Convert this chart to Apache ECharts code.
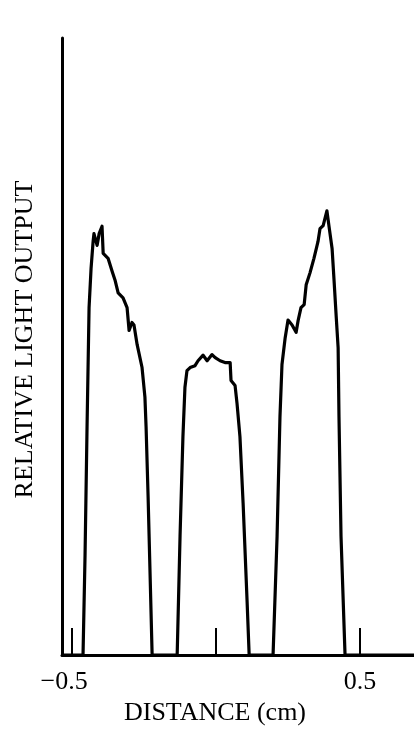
<!DOCTYPE html>
<html>
<head>
<meta charset="utf-8">
<script src="https://cdn.jsdelivr.net/npm/echarts@6/dist/echarts.min.js"></script>
<style>
html,body{margin:0;padding:0;background:#fff;}
#chart{width:414px;height:731px;}
</style>
</head>
<body>
<div id="chart"></div>
<script>
// Distance (cm) along the scan
var distance = [
  -0.535, -0.462, -0.455, -0.448, -0.441, -0.434, -0.427, -0.424, -0.413, -0.406, -0.396,
  -0.392, -0.375, -0.361, -0.351, -0.340, -0.323, -0.309, -0.302, -0.292, -0.285, -0.274,
  -0.257, -0.247, -0.243, -0.236, -0.229, -0.222,
  -0.135, -0.125, -0.115, -0.108, -0.101, -0.090, -0.073, -0.0625, -0.045, -0.031, -0.014,
  -0.003, 0.014, 0.031, 0.049, 0.052, 0.066, 0.073, 0.083, 0.094, 0.108, 0.115,
  0.198, 0.212, 0.222, 0.229, 0.240, 0.250, 0.264, 0.278, 0.285, 0.295, 0.306, 0.313,
  0.326, 0.340, 0.354, 0.361, 0.372, 0.385, 0.392, 0.403, 0.410, 0.417, 0.424, 0.427,
  0.434, 0.448, 0.6875
];
// Relative light output (arbitrary units, 0-100 axis)
var lightOutput = [
  0, 0, 16.1, 37.0, 56.3, 62.7, 67.0, 68.3, 66.4, 68.3, 69.5,
  65.1, 64.3, 62.2, 60.8, 58.7, 57.9, 56.3, 52.6, 53.9, 53.5, 50.3,
  46.6, 41.8, 37.0, 25.7, 12.9, 0,
  0, 19.3, 35.4, 43.4, 46.1, 46.6, 46.9, 47.7, 48.6, 47.7, 48.7,
  48.2, 47.7, 47.4, 47.4, 44.5, 43.7, 40.7, 35.4, 24.6, 8.5, 0,
  0, 19.3, 38.6, 47.1, 51.4, 54.3, 53.5, 52.3, 54.2, 56.3, 56.8, 60.0,
  61.9, 64.3, 67.0, 69.1, 69.6, 72.0, 69.6, 65.9, 60.6, 55.1, 49.8, 38.6,
  19.3, 0, 0
];
var tickValues = [-0.5, 0, 0.5];
var labelValues = [-0.5, 0.5];
var labelText = {'-0.5': '\u22120.5', '0.5': '0.5'};
var xTitle = 'DISTANCE (cm)';
var yTitle = 'RELATIVE LIGHT OUTPUT';

var pts = distance.map(function (d, i) { return [d, lightOutput[i]]; });
var font = '"Liberation Serif", "DejaVu Serif", serif';

var chart = echarts.init(document.getElementById('chart'), null, {renderer: 'canvas'});
chart.setOption({
  animation: false,
  backgroundColor: '#fff',
  grid: {left: 62, right: 0, top: 38, bottom: 71},
  xAxis: {
    type: 'value',
    min: -0.535, max: 0.6875,
    name: xTitle,
    nameLocation: 'middle',
    nameGap: 44,
    nameTextStyle: {color: '#000', fontFamily: font, fontSize: 26, padding: [0, 46, 0, 0]},
    axisLine: {show: true, onZero: false, lineStyle: {color: '#000', width: 3}},
    axisTick: {show: true, inside: true, length: 27, customValues: tickValues, lineStyle: {color: '#000', width: 2}},
    axisLabel: {
      show: true, customValues: labelValues, margin: 14,
      color: '#000', fontFamily: font, fontSize: 26,
      formatter: function (v) {
        return v < 0 ? '{m|' + labelText['-0.5'] + '}' : labelText['0.5'];
      },
      rich: {m: {color: '#000', fontFamily: font, fontSize: 26, padding: [0, 16, 0, 0]}}
    },
    splitLine: {show: false}
  },
  yAxis: {
    type: 'value',
    min: 0, max: 100,
    name: yTitle,
    nameLocation: 'middle',
    nameGap: 24,
    nameRotate: 90,
    nameTextStyle: {color: '#000', fontFamily: font, fontSize: 26, padding: [0, 0, 0, 14]},
    axisLine: {show: true, onZero: false, lineStyle: {color: '#000', width: 3}},
    axisTick: {show: false},
    axisLabel: {show: false},
    splitLine: {show: false}
  },
  series: [{
    type: 'line',
    data: pts,
    showSymbol: false,
    symbol: 'none',
    clip: false,
    lineStyle: {color: '#000', width: 3.2, join: 'round'}
  }]
});
</script>
</body>
</html>
